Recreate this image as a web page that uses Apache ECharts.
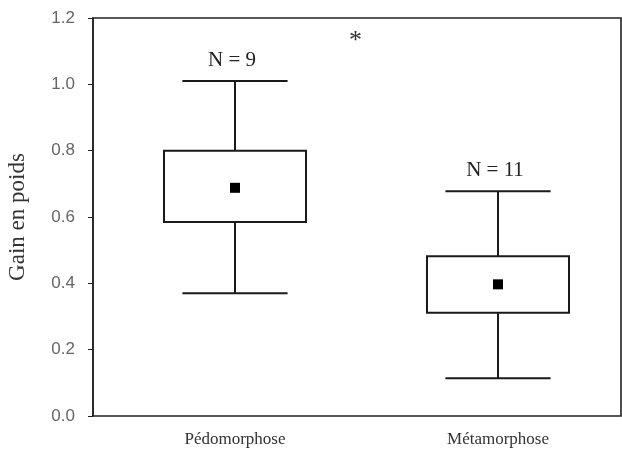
<!DOCTYPE html>
<html>
<head>
<meta charset="utf-8">
<script src="https://cdn.jsdelivr.net/npm/echarts@6/dist/echarts.min.js"></script>
<style>html,body{margin:0;padding:0;background:#fff;}#c{width:622px;height:450px;}</style>
</head>
<body>
<div id="c"></div>
<script>
var categories = ['Pédomorphose', 'Métamorphose'];
var whiskerLow = [0.37, 0.114];
var boxLow = [0.585, 0.311];
var boxHigh = [0.80, 0.482];
var whiskerHigh = [1.01, 0.678];
var means = [0.688, 0.397];
var nLabels = ['N = 9', 'N = 11'];
var yTicks = [0, 0.2, 0.4, 0.6, 0.8, 1.0, 1.2];

var data = categories.map(function (c, i) {
  return [i, whiskerLow[i], boxLow[i], boxHigh[i], whiskerHigh[i], means[i]];
});

var chart = echarts.init(document.getElementById('c'), null, {renderer: 'canvas'});
var lineColor = '#1a1a1a';

function renderItem(params, api) {
  var idx = api.value(0);
  var band = api.size([1, 0])[0];
  var boxW = band * 0.54;
  var capW = band * 0.40;
  var pLow = api.coord([idx, api.value(1)]);
  var pB1 = api.coord([idx, api.value(2)]);
  var pB2 = api.coord([idx, api.value(3)]);
  var pHigh = api.coord([idx, api.value(4)]);
  var pMean = api.coord([idx, api.value(5)]);
  var cx = pLow[0];
  var st = {stroke: lineColor, lineWidth: 2, fill: null};
  var children = [
    {type: 'line', shape: {x1: cx, y1: pHigh[1], x2: cx, y2: pB2[1]}, style: st},
    {type: 'line', shape: {x1: cx, y1: pB1[1], x2: cx, y2: pLow[1]}, style: st},
    {type: 'line', shape: {x1: cx - capW / 2, y1: pHigh[1], x2: cx + capW / 2, y2: pHigh[1]}, style: st},
    {type: 'line', shape: {x1: cx - capW / 2, y1: pLow[1], x2: cx + capW / 2, y2: pLow[1]}, style: st},
    {type: 'rect', shape: {x: cx - boxW / 2, y: pB2[1], width: boxW, height: pB1[1] - pB2[1]}, style: {stroke: lineColor, lineWidth: 2, fill: '#fff'}},
    {type: 'rect', shape: {x: cx - 5, y: pMean[1] - 5, width: 10, height: 10}, style: {fill: '#000'}},
    {type: 'text', x: cx - 3, y: pHigh[1] - 10, style: {text: nLabels[idx], fill: '#222', font: '21px "Liberation Serif", serif', align: 'center', verticalAlign: 'bottom'}}
  ];
  return {type: 'group', children: children};
}

var option = {
  animation: false,
  backgroundColor: '#fff',
  grid: [
    {left: 93, right: 1, top: 18, bottom: 34, show: true, borderColor: '#222', borderWidth: 1.6, backgroundColor: 'transparent', outerBoundsMode: 'none'},
    {left: 103.5, width: 526, top: 18, bottom: 34, outerBoundsMode: 'none'}
  ],
  xAxis: [
    {type: 'value', gridIndex: 0, min: 0, max: 1, show: false},
    {type: 'category', gridIndex: 1, data: categories, boundaryGap: true,
      axisLine: {show: false}, axisTick: {show: false}, splitLine: {show: false},
      axisLabel: {margin: 15, color: '#333', fontFamily: '"Liberation Serif", serif', fontSize: 17}}
  ],
  yAxis: [
    {type: 'value', gridIndex: 0, min: 0, max: 1.2, interval: 0.2,
      name: 'Gain en poids', nameLocation: 'middle', nameGap: 64,
      nameTextStyle: {fontFamily: '"Liberation Serif", serif', fontSize: 23, color: '#333'},
      axisLine: {show: true, lineStyle: {color: '#222', width: 1.6}},
      axisTick: {show: true, length: 5, lineStyle: {color: '#222'}},
      splitLine: {show: false},
      axisLabel: {margin: 18, color: '#666', fontFamily: '"Liberation Sans", Arial, sans-serif', fontSize: 17,
        formatter: function (v) { return v.toFixed(1); }}},
    {type: 'value', gridIndex: 1, min: 0, max: 1.2, interval: 0.2, show: false}
  ],
  series: [
    {type: 'custom', xAxisIndex: 1, yAxisIndex: 1, data: data, renderItem: renderItem,
      encode: {x: 0, y: [1, 2, 3, 4, 5]}, z: 5}
  ],
  graphic: [
    {type: 'text', left: 349, top: 28, style: {text: '*', fill: '#333', font: '26px "Liberation Serif", serif'}}
  ]
};
chart.setOption(option);
</script>
</body>
</html>
